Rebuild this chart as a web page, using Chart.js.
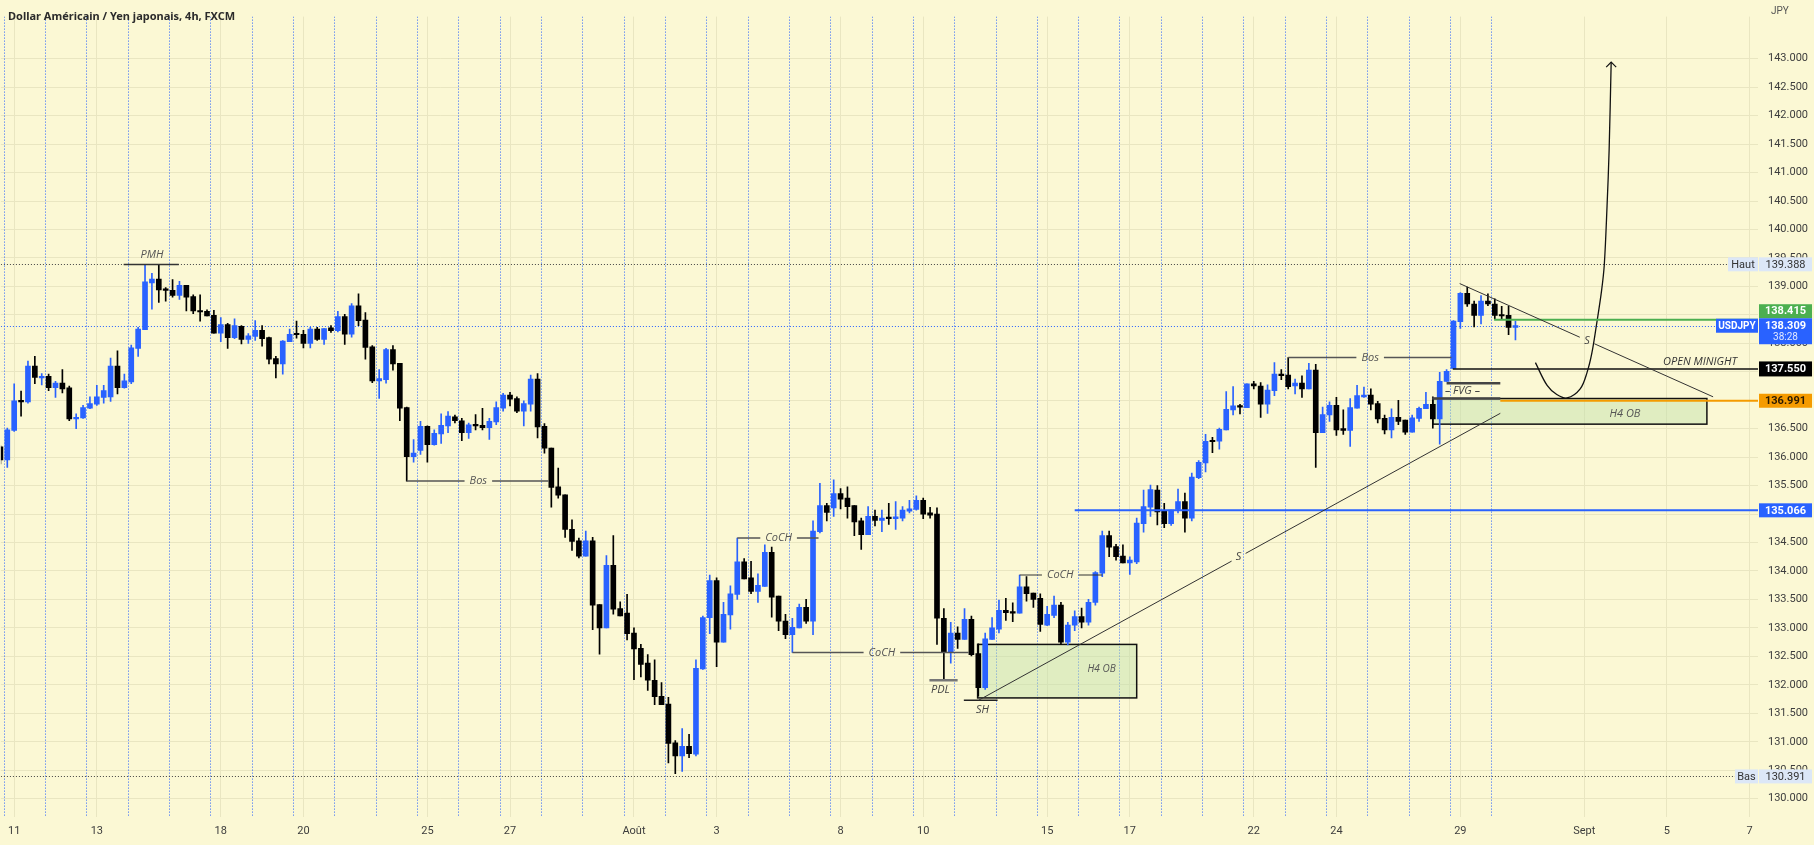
<!DOCTYPE html>
<html>
<head>
<meta charset="utf-8">
<title>USDJPY 4h</title>
<script src="https://cdn.jsdelivr.net/npm/chart.js@4.4.0/dist/chart.umd.min.js"></script>
<style>
  html, body { margin: 0; padding: 0; background: #fbf8d4; overflow: hidden; }
  #wrap { position: relative; width: 1814px; height: 845px; }
  #title { position: absolute; left: 8px; top: 8px; font: bold 11px "Noto Sans", sans-serif; color: #2b2b2b; white-space: nowrap; }
</style>
</head>
<body>
<div id="wrap">
  <canvas id="chart" width="1814" height="845"></canvas>
  <div id="title">Dollar Américain / Yen japonais, 4h, FXCM</div>
</div>
<script>
// 4h candles, 8 Jul -> 30 Aug 2022 (one entry per bar)
const opens = [
  136.18,135.95,136.47,136.99,136.97,137.60,137.39,137.42,137.22,137.30,
  137.22,136.67,136.69,136.86,136.93,137.05,137.06,137.60,137.22,137.32,
  137.91,138.24,139.06,139.13,138.94,138.93,138.84,139.02,138.82,138.57,
  138.56,138.49,138.18,138.33,138.10,138.30,138.07,138.12,138.23,138.10,
  137.73,137.64,138.03,138.16,138.16,138.00,138.25,138.07,138.27,138.22,
  138.47,138.16,138.66,138.41,137.94,137.34,137.36,137.89,137.65,136.87,
  136.01,136.12,136.54,136.22,136.41,136.55,136.71,136.64,136.43,136.57,
  136.56,136.52,136.62,136.86,137.09,137.03,136.81,136.93,137.37,136.54,
  136.16,135.48,135.34,134.73,134.53,134.26,134.53,133.41,133.00,134.10,
  133.34,133.26,132.91,132.64,132.38,132.08,131.80,131.66,130.98,130.75,
  130.92,130.78,132.28,133.18,133.83,132.75,133.23,133.59,134.16,133.88,
  133.64,133.73,134.33,133.56,133.12,132.88,133.00,133.36,133.12,134.69,
  135.15,135.11,135.36,135.28,135.15,134.88,134.64,134.96,134.89,134.93,
  134.92,134.93,135.05,135.08,135.24,135.02,135.00,133.17,132.57,132.91,
  132.80,133.15,132.55,131.95,132.80,132.98,133.31,133.28,133.26,133.72,
  133.61,133.52,133.05,133.22,133.40,132.75,133.05,133.20,133.10,133.45,
  133.96,134.62,134.43,134.26,134.14,134.16,134.83,135.12,135.42,135.05,
  134.83,135.08,135.22,134.93,135.64,135.90,136.28,136.28,136.48,136.83,
  136.90,136.87,137.29,137.25,136.93,137.17,137.46,137.44,137.25,137.30,
  137.20,137.53,136.43,136.74,136.91,136.50,136.47,136.86,137.06,137.09,
  136.94,136.68,136.48,136.70,136.65,136.44,136.68,136.85,136.93,136.67,
  137.33,137.56,138.38,138.88,138.69,138.49,138.74,138.69,138.49,138.49,138.28
];
const highs = [
  136.20,136.51,137.29,137.16,137.69,137.77,137.47,137.46,137.33,137.54,
  137.25,136.76,136.91,137.06,137.26,137.26,137.74,137.87,137.46,137.97,
  138.28,139.37,139.23,139.38,138.98,139.12,139.09,139.02,138.85,138.85,
  138.59,138.58,138.45,138.35,138.43,138.31,138.17,138.40,138.31,138.11,
  137.77,138.05,138.25,138.39,138.23,138.28,138.28,138.26,138.31,138.56,
  138.51,138.70,138.87,138.54,137.96,137.54,137.91,137.96,137.65,136.88,
  136.31,136.63,136.55,136.48,136.76,136.80,136.74,136.68,136.60,136.75,
  136.86,136.68,136.97,137.12,137.14,137.06,136.99,137.44,137.47,136.59,
  136.16,135.81,135.34,134.90,134.58,134.70,134.59,133.41,134.27,134.62,
  133.46,133.59,133.00,132.71,132.53,132.44,132.04,131.78,131.02,131.23,
  131.13,132.44,133.21,133.93,133.88,133.45,133.74,134.58,134.22,134.17,
  133.95,134.46,134.42,133.56,133.24,133.17,133.42,133.50,134.88,135.54,
  135.19,135.60,135.45,135.48,135.15,134.93,135.13,135.07,135.07,135.19,
  135.22,135.13,135.24,135.32,135.28,135.12,135.11,133.34,133.10,133.02,
  133.34,133.21,132.72,132.91,133.18,133.49,133.52,133.44,133.93,133.90,
  133.61,133.60,133.38,133.56,133.45,133.10,133.30,133.35,133.50,133.99,
  134.70,134.70,134.47,134.46,134.25,134.93,135.42,135.51,135.50,135.19,
  135.07,135.44,135.37,135.72,135.94,136.40,136.35,136.51,137.15,137.24,
  136.93,137.29,137.33,137.31,137.27,137.66,137.54,137.75,137.37,137.43,
  137.65,137.63,136.88,136.97,137.05,136.83,137.03,137.26,137.23,137.20,
  136.98,136.74,136.85,137.00,136.65,136.74,136.88,137.14,137.06,137.49,
  137.54,138.40,138.89,138.99,138.74,138.84,138.87,138.78,138.65,138.65,138.39
];
const lows = [
  135.88,135.82,136.45,136.72,136.95,137.29,137.27,137.17,137.05,137.13,
  136.64,136.50,136.68,136.85,136.91,136.95,136.98,137.11,137.21,137.29,
  137.77,138.24,138.60,138.72,138.74,138.81,138.77,138.57,138.52,138.39,
  138.48,138.18,138.03,137.91,138.08,137.99,138.00,138.05,137.95,137.64,
  137.39,137.46,138.03,138.09,137.92,137.92,138.05,137.98,138.19,138.20,
  137.98,138.11,138.31,137.72,137.31,137.03,137.30,137.53,136.64,135.58,
  135.91,136.05,135.91,136.21,136.24,136.43,136.60,136.29,136.33,136.48,
  136.48,136.31,136.57,136.81,136.90,136.78,136.55,136.81,136.34,136.07,
  135.12,135.28,134.59,134.36,134.23,134.26,132.97,132.54,133.00,133.24,
  133.21,132.79,132.09,132.14,131.90,131.65,131.65,130.63,130.44,130.48,
  130.72,130.75,132.27,132.90,132.32,132.75,132.98,133.50,133.86,133.60,
  133.45,133.73,133.19,132.95,132.81,132.57,133.00,133.08,132.88,134.67,
  134.88,134.96,135.09,134.93,134.62,134.38,134.64,134.79,134.69,134.82,
  134.73,134.88,135.02,135.07,134.92,134.93,132.71,132.08,132.38,132.64,
  132.80,132.51,131.80,131.92,132.80,132.91,133.13,133.11,133.26,133.47,
  133.36,132.94,133.04,133.18,132.71,132.70,132.95,133.00,133.05,133.40,
  133.90,134.25,134.19,134.14,133.94,134.13,134.68,134.96,134.81,134.76,
  134.80,135.02,134.68,134.88,135.62,135.74,136.08,136.14,136.48,136.74,
  136.76,136.87,137.20,136.70,136.77,137.08,137.36,137.20,137.11,137.05,
  137.20,135.82,136.43,136.63,136.38,136.40,136.19,136.86,137.05,136.83,
  136.60,136.41,136.34,136.57,136.40,136.44,136.63,136.85,136.51,136.23,
  137.33,137.56,138.26,138.65,138.29,138.34,138.66,138.43,138.43,138.15,138.06
];
const closes = [
  135.95,136.48,136.99,136.97,137.60,137.40,137.42,137.22,137.30,137.20,
  136.67,136.70,136.87,136.94,137.06,137.17,137.60,137.22,137.34,137.92,
  138.25,139.08,139.13,138.94,138.93,138.84,139.02,138.81,138.57,138.55,
  138.48,138.18,138.33,138.10,138.31,138.07,138.13,138.23,138.08,137.72,
  137.64,138.04,138.16,138.15,138.00,138.25,138.07,138.26,138.22,138.47,
  138.16,138.66,138.40,137.93,137.34,137.38,137.89,137.64,136.86,136.01,
  136.07,136.54,136.22,136.42,136.56,136.72,136.64,136.43,136.57,136.55,
  136.52,136.63,136.87,137.09,137.02,136.81,136.94,137.37,136.53,136.16,
  135.47,135.33,134.73,134.52,134.26,134.53,133.40,133.00,134.10,133.33,
  133.21,132.90,132.63,132.36,132.08,131.79,131.65,130.97,130.75,130.92,
  130.79,132.29,133.18,133.83,132.75,133.24,133.60,134.16,133.86,133.64,
  133.75,134.33,133.54,133.12,132.88,133.01,133.36,133.12,134.70,135.15,
  135.03,135.36,135.26,135.13,134.86,134.64,134.96,134.89,134.93,134.92,
  134.95,135.07,135.09,135.24,135.00,134.98,133.17,132.57,132.91,132.80,
  133.15,132.53,131.95,132.81,133.00,133.31,133.27,133.26,133.72,133.60,
  133.50,133.06,133.24,133.40,132.75,133.05,133.20,133.10,133.45,133.97,
  134.62,134.42,134.25,134.14,134.19,134.84,135.13,135.43,135.04,134.83,
  135.07,135.22,134.93,135.65,135.91,136.28,136.27,136.49,136.84,136.90,
  136.88,137.29,137.25,136.93,137.18,137.46,137.43,137.24,137.30,137.20,
  137.53,136.43,136.75,136.91,136.48,136.47,136.87,137.08,137.09,136.93,
  136.67,136.48,136.70,136.63,136.44,136.69,136.86,136.93,136.67,137.33,
  137.51,138.39,138.88,138.69,138.49,138.74,138.69,138.49,138.48,138.28,138.31
];

// time axis: label text and the bar index it sits on
const dayLabels = ["11","13","18","20","25","27","Août","3","8","10","15","17","22","24","29","Sept","5","7"];
const dayLabelBars = [2,14,32,44,62,74,92,104,122,134,152,164,182,194,212,230,242,254];
const priceTicks = [130,130.5,131,131.5,132,132.5,133,133.5,134,134.5,135,135.5,136,136.5,
  137,137.5,138,138.5,139,139.5,140,140.5,141,141.5,142,142.5,143];

// projected path drawn on the right (bar index, price)
const projX = [222.9,224.6,226.0,227.5,229.4,230.4,231.1,231.8,232.5,232.9,233.3,233.6,233.9];
const projY = [137.66,137.26,137.10,137.04,137.20,137.49,137.83,138.35,138.92,139.38,140.41,141.39,142.94];

const upColor = "#2962ff";
const downColor = "#000000";
const bg = "#fbf8d4";
const gridColor = "#e9e6c1";
const lastPrice = 138.309;

const barColors = opens.map((o, i) => (closes[i] >= o ? upColor : downColor));
const wickData = opens.map((o, i) => ({ x: i, y: [lows[i], highs[i]] }));
const bodyData = opens.map((o, i) => ({ x: i, y: [o, closes[i]] }));
const projData = projX.map((v, i) => ({ x: v, y: projY[i] }));

const axisFont = { family: 'Roboto, "Liberation Sans", sans-serif', size: 11 };
const noteFont = 'italic 11px "Open Sans", "Noto Sans", sans-serif';

//helpers
function hSeg(ctx, x0, x1, y, color, w, dash) {
  ctx.save();
  ctx.strokeStyle = color;
  ctx.lineWidth = w;
  ctx.setLineDash(dash || []);
  ctx.beginPath();
  ctx.moveTo(x0, y);
  ctx.lineTo(x1, y);
  ctx.stroke();
  ctx.restore();
}

function note(ctx, text, x, y, color, font) {
  ctx.save();
  ctx.font = font || noteFont;
  ctx.fillStyle = color || "#555";
  ctx.textAlign = "center";
  ctx.textBaseline = "middle";
  ctx.fillText(text, x, y);
  ctx.restore();
}

// horizontal line with the label sitting in a gap
function labelLine(ctx, x0, x1, y, text, xt, color, w) {
  ctx.save();
  ctx.font = noteFont;
  const half = ctx.measureText(text).width / 2 + 5;
  ctx.restore();
  hSeg(ctx, x0, xt - half, y, color, w);
  hSeg(ctx, xt + half, x1, y, color, w);
  note(ctx, text, xt, y, "#555");
}

// sloped line with an "S" in a gap
function trend(ctx, ax, ay, bx, by, sx) {
  const t = (sx - ax) / (bx - ax);
  const sy = ay + (by - ay) * t;
  const len = Math.hypot(bx - ax, by - ay);
  const g = 8 / len;
  ctx.save();
  ctx.strokeStyle = "#333";
  ctx.lineWidth = 1;
  ctx.beginPath();
  ctx.moveTo(ax, ay);
  ctx.lineTo(ax + (bx - ax) * (t - g), ay + (by - ay) * (t - g));
  ctx.moveTo(ax + (bx - ax) * (t + g), ay + (by - ay) * (t + g));
  ctx.lineTo(bx, by);
  ctx.stroke();
  ctx.restore();
  note(ctx, "S", sx, sy, "#444");
}

function tag(ctx, x0, x1, yc, h, fill, color, text, font) {
  ctx.save();
  ctx.fillStyle = fill;
  ctx.fillRect(x0, yc - h / 2, x1 - x0, h);
  ctx.font = font || "11px Roboto, sans-serif";
  ctx.fillStyle = color;
  ctx.textAlign = "center";
  ctx.textBaseline = "middle";
  ctx.fillText(text, (x0 + x1) / 2, yc + 0.5);
  ctx.restore();
}

const backdrop = {
  id: "backdrop",
  beforeDraw(chart) {
    const { ctx, width, height } = chart;
    ctx.save();
    ctx.fillStyle = bg;
    ctx.fillRect(0, 0, width, height);
    ctx.restore();
  },
  beforeDatasetsDraw(chart) {
    const { ctx, chartArea: a, scales } = chart;
    const X = (v) => scales.x.getPixelForValue(v);
    const Y = (v) => scales.y.getPixelForValue(v);
    ctx.save();
    ctx.beginPath();
    ctx.rect(a.left, a.top, a.right - a.left, a.bottom - a.top);
    ctx.clip();

    // session breaks
    ctx.strokeStyle = "#2962ff";
    ctx.lineWidth = 1;
    ctx.setLineDash([1, 2]);
    for (let n = 0; n <= 36; n++) {
      const x = Math.round(X(6 * n + 0.5)) + 0.5;
      ctx.beginPath();
      ctx.moveTo(x, a.top);
      ctx.lineTo(x, a.bottom);
      ctx.stroke();
    }
    ctx.setLineDash([]);

    // high / low / last price dotted lines
    hSeg(ctx, a.left, 1728, Math.round(Y(139.388)) + 0.5, "#444", 1, [1, 2]);
    hSeg(ctx, a.left, 1735, Math.round(Y(130.391)) + 0.5, "#444", 1, [1, 2]);
    hSeg(ctx, a.left, 1716, Math.round(Y(lastPrice)) + 0.5, upColor, 1, [1, 2]);

    // order block boxes
    const boxes = [
      [141.9, 165.0, 132.71, 131.77],
      [208.0, 247.8, 137.03, 136.58]
    ];
    boxes.forEach(([i0, i1, p0, p1]) => {
      const x0 = X(i0), x1 = X(i1), y0 = Y(p0), y1 = Y(p1);
      ctx.fillStyle = "rgba(190,225,170,0.45)";
      ctx.fillRect(x0, y0, x1 - x0, y1 - y0);
      ctx.strokeStyle = "#111";
      ctx.lineWidth = 1.5;
      ctx.strokeRect(x0, y0, x1 - x0, y1 - y0);
    });
    ctx.restore();
  },
  afterDatasetsDraw(chart) {
    const { ctx, chartArea: a, scales } = chart;
    const X = (v) => scales.x.getPixelForValue(v);
    const Y = (v) => scales.y.getPixelForValue(v);
    ctx.save();
    ctx.beginPath();
    ctx.rect(a.left, a.top, a.right - a.left, a.bottom - a.top);
    ctx.clip();

    // PMH
    hSeg(ctx, X(17.9), X(25.9), Y(139.385), "#333", 1.5);
    note(ctx, "PMH", X(22), Y(139.385) - 10, "#555");

    // structure lines
    labelLine(ctx, X(59), X(79.6), Y(135.58), "Bos", X(69.4), "#555", 1.5);
    labelLine(ctx, X(107), X(118.8), Y(134.58), "CoCH", X(113), "#555", 1.5);
    labelLine(ctx, X(115), X(140.6), Y(132.57), "CoCH", X(128), "#555", 1.5);
    labelLine(ctx, X(148), X(160), Y(133.93), "CoCH", X(153.9), "#333", 1.2);
    labelLine(ctx, X(187), X(210.7), Y(137.75), "Bos", X(198.9), "#555", 1.5);

    hSeg(ctx, X(134.9), X(139), Y(132.08), "#777", 2.5);
    note(ctx, "PDL", X(136.5), Y(132.08) + 10, "#444");
    hSeg(ctx, X(139.9), X(144.8), Y(131.73), "#222", 1.5);
    note(ctx, "SH", X(142.6), Y(131.73) + 10, "#444");
    note(ctx, "H4 OB", X(159.9), Y(132.27), "#555", 'italic 10px "Open Sans", sans-serif');

    // FVG
    hSeg(ctx, X(210.0), X(217.8), Y(137.30), "#444", 2.5);
    hSeg(ctx, X(207.9), X(217.8), Y(137.03), "#444", 2.5);
    note(ctx, "– FVG –", X(212.3), Y(137.165), "#444");
    note(ctx, "H4 OB", X(235.9), Y(136.76), "#555", 'italic 11px "Open Sans", sans-serif');

    // key levels
    hSeg(ctx, X(210.9), a.right, Y(137.55), "#111", 1.5);
    note(ctx, "OPEN MINIGHT", X(246.8), Y(137.55) - 7, "#333");
    hSeg(ctx, X(216.9), a.right, Y(138.415), "#4caf50", 2);
    hSeg(ctx, X(217.8), a.right, Y(136.991), "#f59b00", 2);
    hSeg(ctx, X(156), a.right, Y(135.066), upColor, 2);

    // trend lines
    trend(ctx, X(142.06), Y(131.73), X(217.8), Y(136.77), X(179.8));
    trend(ctx, X(211.9), Y(139.05), X(248.7), Y(137.06), X(230.4));

    // arrow head on the projection
    const n = projX.length - 1;
    const tx = X(projX[n]), ty = Y(projY[n]);
    ctx.strokeStyle = "#111";
    ctx.lineWidth = 1.2;
    ctx.beginPath();
    ctx.moveTo(tx - 5, ty + 5);
    ctx.lineTo(tx, ty);
    ctx.lineTo(tx + 5, ty + 5);
    ctx.stroke();
    ctx.restore();
  },
  afterDraw(chart) {
    const { ctx, chartArea: a, scales } = chart;
    const Y = (v) => scales.y.getPixelForValue(v);
    const r0 = a.right + 1, r1 = 1812;
    const bold = "bold 11px Roboto, sans-serif";

    ctx.save();
    ctx.font = "10px Roboto, sans-serif";
    ctx.fillStyle = "#555";
    ctx.textBaseline = "middle";
    ctx.fillText("JPY", 1771, 11);
    ctx.restore();

    tag(ctx, 1728, a.right, Y(139.388), 14, "#dce7f7", "#333", "Haut");
    tag(ctx, r0, r1, Y(139.388), 14, "#dce7f7", "#333", "139.388");
    tag(ctx, 1735, a.right, Y(130.391), 14, "#dce7f7", "#333", "Bas");
    tag(ctx, r0, r1, Y(130.391), 14, "#dce7f7", "#333", "130.391");

    // last price block
    const yl = Y(lastPrice);
    tag(ctx, r0, r1, yl - 14.5, 14, "#4caf50", "#fff", "138.415", bold);
    ctx.save();
    ctx.fillStyle = upColor;
    ctx.fillRect(r0, yl - 7.5, r1 - r0, 26);
    ctx.fillStyle = "#fff";
    ctx.textAlign = "center";
    ctx.textBaseline = "middle";
    ctx.font = bold;
    ctx.fillText("138.309", (r0 + r1) / 2, yl + 0.5);
    ctx.font = "10px Roboto, sans-serif";
    ctx.fillStyle = "#dfe8ff";
    ctx.fillText("38:28", (r0 + r1) / 2, yl + 12);
    ctx.restore();
    tag(ctx, 1716, a.right, yl, 14, upColor, "#fff", "USDJPY", "bold 10px Roboto, sans-serif");

    tag(ctx, r0, r1, Y(137.55), 15, "#000", "#fff", "137.550", bold);
    tag(ctx, r0, r1, Y(136.991), 14, "#f59b00", "#2a1a00", "136.991", bold);
    tag(ctx, r0, r1, Y(135.066), 14, upColor, "#fff", "135.066", bold);
  }
};

const chart = document.querySelector("#chart").getContext("2d");

new Chart(chart, {
  type: "bar",
  data: {
    datasets: [
      {
        type: "line",
        data: projData,
        borderColor: "#111",
        borderWidth: 1.3,
        pointRadius: 0,
        tension: 0.35,
        order: 0
      },
      {
        data: wickData,
        backgroundColor: barColors,
        barThickness: 1,
        grouped: false,
        order: 2
      },
      {
        data: bodyData,
        backgroundColor: barColors,
        barThickness: 5,
        minBarLength: 1.5,
        grouped: false,
        order: 1
      }
    ]
  },
  options: {
    responsive: false,
    devicePixelRatio: 1,
    animation: false,
    layout: { padding: 0 },
    plugins: { legend: { display: false }, tooltip: { enabled: false } },
    scales: {
      x: {
        type: "linear",
        position: "bottom",
        min: 0.0726,
        max: 255.22,
        offset: false,
        afterFit: (s) => { s.height = 28; },
        afterBuildTicks: (s) => { s.ticks = dayLabelBars.map((v) => ({ value: v })); },
        grid: { color: gridColor, offset: false, drawTicks: false },
        border: { display: false },
        ticks: {
          autoSkip: false,
          maxRotation: 0,
          padding: 8,
          color: "#3d3d3d",
          font: axisFont,
          callback: (v, i) => dayLabels[i]
        }
      },
      y: {
        type: "linear",
        position: "right",
        min: 129.678,
        max: 143.74,
        afterFit: (s) => { s.width = 56; },
        afterBuildTicks: (s) => { s.ticks = priceTicks.map((v) => ({ value: v })); },
        grid: { color: gridColor, drawTicks: false },
        border: { display: false },
        ticks: {
          padding: 10,
          color: "#3d3d3d",
          font: axisFont,
          callback: (v) => Number(v).toFixed(3)
        }
      }
    }
  },
  plugins: [backdrop]
});
</script>
</body>
</html>
